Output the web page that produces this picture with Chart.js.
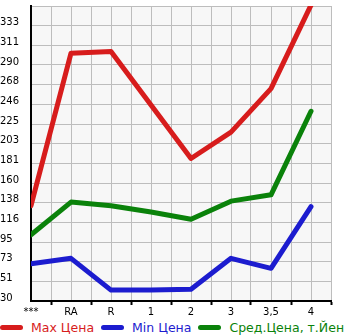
<!DOCTYPE html>
<html>
<head>
<meta charset="utf-8">
<script src="https://cdn.jsdelivr.net/npm/chart.js@4"></script>
<style>
  html, body { margin: 0; padding: 0; background: #fff; }
  #wrap { position: relative; width: 345px; height: 335px; overflow: hidden; }
  #box { position: absolute; left: 0; top: 0; width: 345px; height: 320px; }
  #legend { position: absolute; left: 0; top: 320px; height: 15px; display: flex; align-items: center;
    font: 12.5px "DejaVu Sans", sans-serif; white-space: nowrap; }
  #legend .it { display: flex; align-items: center; margin-right: 7px; }
  #legend .sw { width: 23px; height: 5px; border-radius: 3px; margin-right: 8px; }
</style>
</head>
<body>
<div id="wrap">
  <div id="box"><canvas id="c"></canvas></div>
  <div id="legend"></div>
</div>
<script>
// categories + series
const categories = ["***", "RA", "R", "1", "2", "3", "3,5", "4"];
const maxPrice = [135, 303, 305, 246, 187, 216, 264, 356];
const minPrice = [71, 77, 42, 42, 43, 77, 66, 134];
const avgPrice = [103, 139, 135, 128, 120, 140, 147, 239];
const yTickLabels = ["30", "51", "73", "95", "116", "138", "160", "181", "203", "225", "246", "268", "290", "311", "333"];
const seriesNames = ["Max Цена", "Min Цена", "Сред.Цена, т.Йен"];
const seriesColors = ["#d71c1c", "#1c1ccf", "#0a820a"];

const pts = arr => arr.map((v, i) => ({ x: i, y: v }));
const lineDs = (label, data, color) => ({
  label, data: pts(data), borderColor: color, backgroundColor: color,
  borderWidth: 5, pointRadius: 0, tension: 0,
  borderCapStyle: "round", borderJoinStyle: "round",
});

// plot background fill
const plotBg = {
  id: "plotBg",
  beforeDraw(chart) {
    const { ctx, chartArea: a } = chart;
    ctx.save();
    ctx.fillStyle = "#f7f7f7";
    ctx.fillRect(a.left, a.top, a.right - a.left, a.bottom - a.top);
    ctx.restore();
  },
};

new Chart(document.getElementById("c"), {
  type: "line",
  data: {
    datasets: [
      lineDs(seriesNames[0], maxPrice, seriesColors[0]),
      lineDs(seriesNames[1], minPrice, seriesColors[1]),
      lineDs(seriesNames[2], avgPrice, seriesColors[2]),
    ],
  },
  options: {
    responsive: true, maintainAspectRatio: false, animation: false,
    layout: { padding: { top: 0, right: 14, bottom: 0, left: 0 } },
    plugins: { legend: { display: false }, tooltip: { enabled: false } },
    scales: {
      x: {
        type: "linear", min: 0, max: 7.5,
        afterFit: s => { s.height = 19; },
        ticks: {
          stepSize: 0.5, autoSkip: false, maxRotation: 0, padding: 1, color: "#000",
          font: { family: "DejaVu Sans", size: 10 },
          callback: v => Number.isInteger(v) ? categories[v] : "",
        },
        grid: {
          color: "#bdbdbd", lineWidth: 1, tickLength: 4,
          tickColor: c => (c.tick && c.tick.value % 1) ? "#000" : "rgba(0,0,0,0)",
          tickWidth: 2,
        },
        border: { color: "#000", width: 2 },
      },
      y: {
        min: 30, max: 355,
        afterFit: s => { s.width = 31; },
        ticks: {
          stepSize: 65 / 3, crossAlign: "far", padding: 0, labelOffset: -3, color: "#000",
          font: { family: "DejaVu Sans", size: 10 },
          callback: (v, i) => yTickLabels[i] || "",
        },
        grid: { color: "#bdbdbd", lineWidth: 1, drawTicks: false },
        border: { color: "#000", width: 2 },
      },
    },
  },
  plugins: [plotBg],
});

// legend as real text under the chart
document.getElementById("legend").innerHTML = seriesNames.map((n, i) =>
  `<div class="it"><div class="sw" style="background:${seriesColors[i]}"></div>` +
  `<span style="color:${seriesColors[i]}">${n}</span></div>`).join("");
</script>
</body>
</html>
